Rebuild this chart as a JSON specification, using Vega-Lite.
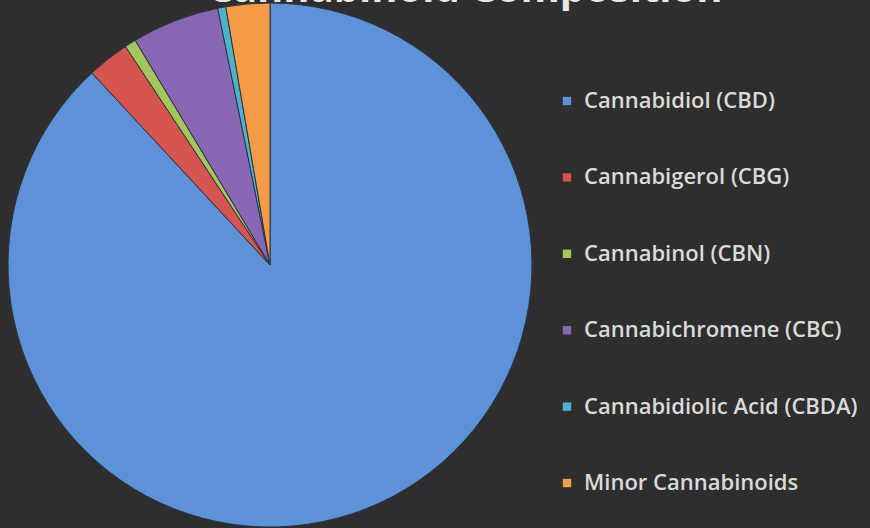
{
  "$schema": "https://vega.github.io/schema/vega-lite/v6.json",
  "width": 540,
  "height": 530,
  "autosize": {"type": "none"},
  "padding": {"left": 0, "top": 0, "right": 330, "bottom": 0},
  "background": "#2e2e2e",
  "view": {"stroke": null},
  "title": {
    "text": "Cannabinoid Composition",
    "fontSize": 40,
    "font": "Open Sans",
    "fontWeight": "bold",
    "color": "#e8e8e8",
    "anchor": "middle",
    "dx": 195,
    "dy": 10,
    "offset": 0
  },
  "data": {
    "values": [
      {"name": "Cannabidiol (CBD)", "pct": 88.1, "o": 1},
      {"name": "Cannabigerol (CBG)", "pct": 2.6, "o": 2},
      {"name": "Cannabinol (CBN)", "pct": 0.7, "o": 3},
      {"name": "Cannabichromene (CBC)", "pct": 5.4, "o": 4},
      {"name": "Cannabidiolic Acid (CBDA)", "pct": 0.5, "o": 5},
      {"name": "Minor Cannabinoids", "pct": 2.7, "o": 6}
    ]
  },
  "mark": {"type": "arc", "radius": 262, "stroke": "#2a3440", "strokeWidth": 1},
  "encoding": {
    "theta": {"field": "pct", "type": "quantitative", "stack": true},
    "order": {"field": "o", "type": "quantitative"},
    "color": {
      "field": "name",
      "type": "nominal",
      "scale": {
        "domain": ["Cannabidiol (CBD)", "Cannabigerol (CBG)", "Cannabinol (CBN)", "Cannabichromene (CBC)", "Cannabidiolic Acid (CBDA)", "Minor Cannabinoids"],
        "range": ["#5d92d8", "#d65450", "#a4c65a", "#8866b4", "#4eb2cb", "#f59b45"]
      },
      "legend": {
        "orient": "none",
        "legendX": 556,
        "legendY": 90,
        "title": null,
        "symbolType": "square",
        "symbolSize": 70,
        "symbolStrokeWidth": 0,
        "labelFont": "Open Sans",
        "labelFontSize": 22,
        "labelFontWeight": 600,
        "labelColor": "#dadada",
        "labelLimit": 400,
        "labelOffset": 6,
        "rowPadding": 54.4
      }
    }
  }
}
